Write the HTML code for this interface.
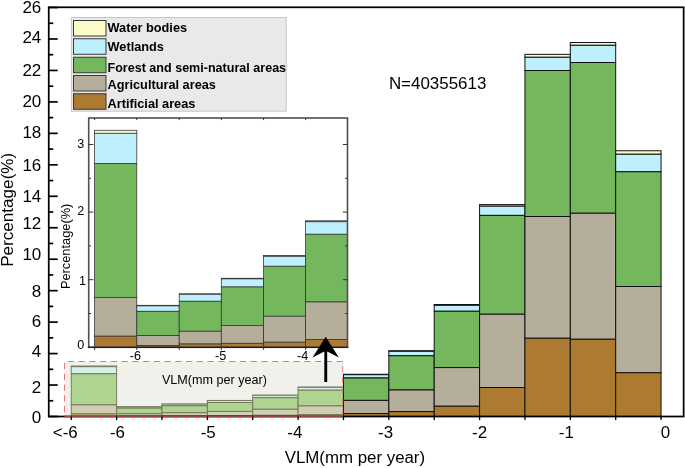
<!DOCTYPE html>
<html><head><meta charset="utf-8"><title>chart</title>
<style>
html,body{margin:0;padding:0;background:#fff;}
body{width:685px;height:468px;overflow:hidden;font-family:"Liberation Sans",sans-serif;}
svg{display:block;font-family:"Liberation Sans",sans-serif;will-change:transform;}
</style></head><body>
<svg width="685" height="468" viewBox="0 0 685 468">
<rect width="685" height="468" fill="#fff"/>

<rect x="64.5" y="361.5" width="278.2" height="55" rx="1.8" fill="#F0F1EA"/>
<g><rect x="71.25" y="366.01" width="45.37" height="0.70" fill="#F4F5D8" stroke="#74765c" stroke-width="0.95"/>
<rect x="71.25" y="366.70" width="45.37" height="7.03" fill="#D5F0E8" stroke="#74765c" stroke-width="0.95"/>
<rect x="71.25" y="373.73" width="45.37" height="31.16" fill="#AED490" stroke="#74765c" stroke-width="0.95"/>
<rect x="71.25" y="404.89" width="45.37" height="9.03" fill="#D0CFB2" stroke="#74765c" stroke-width="0.95"/>
<rect x="71.25" y="413.92" width="45.37" height="2.58" fill="#D0AC6C" stroke="#74765c" stroke-width="0.95"/>
<rect x="116.62" y="406.73" width="45.37" height="0.14" fill="#F4F5D8" stroke="#74765c" stroke-width="0.95"/>
<rect x="116.62" y="406.87" width="45.37" height="1.26" fill="#D5F0E8" stroke="#74765c" stroke-width="0.95"/>
<rect x="116.62" y="408.12" width="45.37" height="5.65" fill="#AED490" stroke="#74765c" stroke-width="0.95"/>
<rect x="116.62" y="413.78" width="45.37" height="2.30" fill="#D0CFB2" stroke="#74765c" stroke-width="0.95"/>
<rect x="116.62" y="416.08" width="45.37" height="0.42" fill="#D0AC6C" stroke="#74765c" stroke-width="0.95"/>
<rect x="161.99" y="404.04" width="45.37" height="0.13" fill="#F4F5D8" stroke="#74765c" stroke-width="0.95"/>
<rect x="161.99" y="404.17" width="45.37" height="1.62" fill="#D5F0E8" stroke="#74765c" stroke-width="0.95"/>
<rect x="161.99" y="405.78" width="45.37" height="6.98" fill="#AED490" stroke="#74765c" stroke-width="0.95"/>
<rect x="161.99" y="412.77" width="45.37" height="2.97" fill="#D0CFB2" stroke="#74765c" stroke-width="0.95"/>
<rect x="161.99" y="415.73" width="45.37" height="0.77" fill="#D0AC6C" stroke="#74765c" stroke-width="0.95"/>
<rect x="207.36" y="400.43" width="45.37" height="0.15" fill="#F4F5D8" stroke="#74765c" stroke-width="0.95"/>
<rect x="207.36" y="400.58" width="45.37" height="1.88" fill="#D5F0E8" stroke="#74765c" stroke-width="0.95"/>
<rect x="207.36" y="402.47" width="45.37" height="8.96" fill="#AED490" stroke="#74765c" stroke-width="0.95"/>
<rect x="207.36" y="411.43" width="45.37" height="4.14" fill="#D0CFB2" stroke="#74765c" stroke-width="0.95"/>
<rect x="207.36" y="415.57" width="45.37" height="0.93" fill="#D0AC6C" stroke="#74765c" stroke-width="0.95"/>
<rect x="252.73" y="395.14" width="45.37" height="0.19" fill="#F4F5D8" stroke="#74765c" stroke-width="0.95"/>
<rect x="252.73" y="395.32" width="45.37" height="2.32" fill="#D5F0E8" stroke="#74765c" stroke-width="0.95"/>
<rect x="252.73" y="397.64" width="45.37" height="11.63" fill="#AED490" stroke="#74765c" stroke-width="0.95"/>
<rect x="252.73" y="409.27" width="45.37" height="6.04" fill="#D0CFB2" stroke="#74765c" stroke-width="0.95"/>
<rect x="252.73" y="415.31" width="45.37" height="1.19" fill="#D0AC6C" stroke="#74765c" stroke-width="0.95"/>
<rect x="298.10" y="387.05" width="45.37" height="0.24" fill="#F4F5D8" stroke="#74765c" stroke-width="0.95"/>
<rect x="298.10" y="387.30" width="45.37" height="2.90" fill="#D5F0E8" stroke="#74765c" stroke-width="0.95"/>
<rect x="298.10" y="390.19" width="45.37" height="15.76" fill="#AED490" stroke="#74765c" stroke-width="0.95"/>
<rect x="298.10" y="405.96" width="45.37" height="8.70" fill="#D0CFB2" stroke="#74765c" stroke-width="0.95"/>
<rect x="298.10" y="414.66" width="45.37" height="1.84" fill="#D0AC6C" stroke="#74765c" stroke-width="0.95"/>
</g>
<g><rect x="343.47" y="374.25" width="45.37" height="0.45" fill="#FBFBC9" stroke="#111" stroke-width="1"/>
<rect x="343.47" y="374.70" width="45.37" height="3.30" fill="#BDEFFC" stroke="#111" stroke-width="1"/>
<rect x="343.47" y="378.00" width="45.37" height="22.40" fill="#75B75D" stroke="#111" stroke-width="1"/>
<rect x="343.47" y="400.40" width="45.37" height="13.20" fill="#B5AE9B" stroke="#111" stroke-width="1"/>
<rect x="343.47" y="413.60" width="45.37" height="2.90" fill="#AD7A32" stroke="#111" stroke-width="1"/>
<rect x="388.84" y="350.70" width="45.37" height="0.60" fill="#FBFBC9" stroke="#111" stroke-width="1"/>
<rect x="388.84" y="351.30" width="45.37" height="4.50" fill="#BDEFFC" stroke="#111" stroke-width="1"/>
<rect x="388.84" y="355.80" width="45.37" height="34.20" fill="#75B75D" stroke="#111" stroke-width="1"/>
<rect x="388.84" y="390.00" width="45.37" height="21.60" fill="#B5AE9B" stroke="#111" stroke-width="1"/>
<rect x="388.84" y="411.60" width="45.37" height="4.90" fill="#AD7A32" stroke="#111" stroke-width="1"/>
<rect x="434.21" y="304.50" width="45.37" height="0.80" fill="#FBFBC9" stroke="#111" stroke-width="1"/>
<rect x="434.21" y="305.30" width="45.37" height="5.95" fill="#BDEFFC" stroke="#111" stroke-width="1"/>
<rect x="434.21" y="311.25" width="45.37" height="56.35" fill="#75B75D" stroke="#111" stroke-width="1"/>
<rect x="434.21" y="367.60" width="45.37" height="38.65" fill="#B5AE9B" stroke="#111" stroke-width="1"/>
<rect x="434.21" y="406.25" width="45.37" height="10.25" fill="#AD7A32" stroke="#111" stroke-width="1"/>
<rect x="479.58" y="204.60" width="45.37" height="1.60" fill="#FBFBC9" stroke="#111" stroke-width="1"/>
<rect x="479.58" y="206.20" width="45.37" height="9.20" fill="#BDEFFC" stroke="#111" stroke-width="1"/>
<rect x="479.58" y="215.40" width="45.37" height="98.85" fill="#75B75D" stroke="#111" stroke-width="1"/>
<rect x="479.58" y="314.25" width="45.37" height="73.25" fill="#B5AE9B" stroke="#111" stroke-width="1"/>
<rect x="479.58" y="387.50" width="45.37" height="29.00" fill="#AD7A32" stroke="#111" stroke-width="1"/>
<rect x="524.95" y="54.35" width="45.37" height="2.95" fill="#FBFBC9" stroke="#111" stroke-width="1"/>
<rect x="524.95" y="57.30" width="45.37" height="13.20" fill="#BDEFFC" stroke="#111" stroke-width="1"/>
<rect x="524.95" y="70.50" width="45.37" height="146.00" fill="#75B75D" stroke="#111" stroke-width="1"/>
<rect x="524.95" y="216.50" width="45.37" height="121.75" fill="#B5AE9B" stroke="#111" stroke-width="1"/>
<rect x="524.95" y="338.25" width="45.37" height="78.25" fill="#AD7A32" stroke="#111" stroke-width="1"/>
<rect x="570.32" y="42.50" width="45.37" height="2.80" fill="#FBFBC9" stroke="#111" stroke-width="1"/>
<rect x="570.32" y="45.30" width="45.37" height="17.20" fill="#BDEFFC" stroke="#111" stroke-width="1"/>
<rect x="570.32" y="62.50" width="45.37" height="150.75" fill="#75B75D" stroke="#111" stroke-width="1"/>
<rect x="570.32" y="213.25" width="45.37" height="126.00" fill="#B5AE9B" stroke="#111" stroke-width="1"/>
<rect x="570.32" y="339.25" width="45.37" height="77.25" fill="#AD7A32" stroke="#111" stroke-width="1"/>
<rect x="615.69" y="150.75" width="45.37" height="3.50" fill="#FBFBC9" stroke="#111" stroke-width="1"/>
<rect x="615.69" y="154.25" width="45.37" height="17.50" fill="#BDEFFC" stroke="#111" stroke-width="1"/>
<rect x="615.69" y="171.75" width="45.37" height="114.75" fill="#75B75D" stroke="#111" stroke-width="1"/>
<rect x="615.69" y="286.50" width="45.37" height="86.25" fill="#B5AE9B" stroke="#111" stroke-width="1"/>
<rect x="615.69" y="372.75" width="45.37" height="43.75" fill="#AD7A32" stroke="#111" stroke-width="1"/>
</g>
<rect x="48.75" y="7.3" width="634.9" height="409.2" fill="none" stroke="#000" stroke-width="1.75"/>
<line x1="64.5" x2="342.7" y1="416.5" y2="416.5" stroke="#5f5f4c" stroke-width="1.7"/>
<path d="M64.5 361.5 H342.7 V416.5" fill="none" stroke="#ee737c" stroke-width="1" stroke-dasharray="6.25 4.5" stroke-dashoffset="7.45"/>
<path d="M342.7 416.5 H64.5" fill="none" stroke="#b83a3c" stroke-width="1.2" stroke-dasharray="6.25 4.5" stroke-dashoffset="7.8"/>
<path d="M64.5 416.5 V361.5" fill="none" stroke="#ee737c" stroke-width="1" stroke-dasharray="6.25 4.5" stroke-dashoffset="6.5"/>
<line x1="48.75" x2="57.75" y1="416.50" y2="416.50" stroke="#000" stroke-width="1.7"/><line x1="48.75" x2="53.25" y1="400.77" y2="400.77" stroke="#000" stroke-width="1.7"/><line x1="48.75" x2="57.75" y1="385.04" y2="385.04" stroke="#000" stroke-width="1.7"/><line x1="48.75" x2="53.25" y1="369.31" y2="369.31" stroke="#000" stroke-width="1.7"/><line x1="48.75" x2="57.75" y1="353.58" y2="353.58" stroke="#000" stroke-width="1.7"/><line x1="48.75" x2="53.25" y1="337.85" y2="337.85" stroke="#000" stroke-width="1.7"/><line x1="48.75" x2="57.75" y1="322.12" y2="322.12" stroke="#000" stroke-width="1.7"/><line x1="48.75" x2="53.25" y1="306.39" y2="306.39" stroke="#000" stroke-width="1.7"/><line x1="48.75" x2="57.75" y1="290.66" y2="290.66" stroke="#000" stroke-width="1.7"/><line x1="48.75" x2="53.25" y1="274.93" y2="274.93" stroke="#000" stroke-width="1.7"/><line x1="48.75" x2="57.75" y1="259.20" y2="259.20" stroke="#000" stroke-width="1.7"/><line x1="48.75" x2="53.25" y1="243.47" y2="243.47" stroke="#000" stroke-width="1.7"/><line x1="48.75" x2="57.75" y1="227.74" y2="227.74" stroke="#000" stroke-width="1.7"/><line x1="48.75" x2="53.25" y1="212.01" y2="212.01" stroke="#000" stroke-width="1.7"/><line x1="48.75" x2="57.75" y1="196.28" y2="196.28" stroke="#000" stroke-width="1.7"/><line x1="48.75" x2="53.25" y1="180.55" y2="180.55" stroke="#000" stroke-width="1.7"/><line x1="48.75" x2="57.75" y1="164.82" y2="164.82" stroke="#000" stroke-width="1.7"/><line x1="48.75" x2="53.25" y1="149.09" y2="149.09" stroke="#000" stroke-width="1.7"/><line x1="48.75" x2="57.75" y1="133.36" y2="133.36" stroke="#000" stroke-width="1.7"/><line x1="48.75" x2="53.25" y1="117.63" y2="117.63" stroke="#000" stroke-width="1.7"/><line x1="48.75" x2="57.75" y1="101.90" y2="101.90" stroke="#000" stroke-width="1.7"/><line x1="48.75" x2="53.25" y1="86.17" y2="86.17" stroke="#000" stroke-width="1.7"/><line x1="48.75" x2="57.75" y1="70.44" y2="70.44" stroke="#000" stroke-width="1.7"/><line x1="48.75" x2="53.25" y1="54.71" y2="54.71" stroke="#000" stroke-width="1.7"/><line x1="48.75" x2="57.75" y1="38.98" y2="38.98" stroke="#000" stroke-width="1.7"/><line x1="48.75" x2="53.25" y1="23.25" y2="23.25" stroke="#000" stroke-width="1.7"/><line x1="48.75" x2="57.75" y1="7.52" y2="7.52" stroke="#000" stroke-width="1.7"/><line x1="71.25" x2="71.25" y1="416.5" y2="420.1" stroke="#000" stroke-width="1.3"/><line x1="116.62" x2="116.62" y1="416.5" y2="420.1" stroke="#000" stroke-width="1.3"/><line x1="161.99" x2="161.99" y1="416.5" y2="420.1" stroke="#000" stroke-width="1.3"/><line x1="207.36" x2="207.36" y1="416.5" y2="420.1" stroke="#000" stroke-width="1.3"/><line x1="252.73" x2="252.73" y1="416.5" y2="420.1" stroke="#000" stroke-width="1.3"/><line x1="298.10" x2="298.10" y1="416.5" y2="420.1" stroke="#000" stroke-width="1.3"/><line x1="343.47" x2="343.47" y1="416.5" y2="420.1" stroke="#000" stroke-width="1.3"/><line x1="388.84" x2="388.84" y1="416.5" y2="420.1" stroke="#000" stroke-width="1.3"/><line x1="434.21" x2="434.21" y1="416.5" y2="420.1" stroke="#000" stroke-width="1.3"/><line x1="479.58" x2="479.58" y1="416.5" y2="420.1" stroke="#000" stroke-width="1.3"/><line x1="524.95" x2="524.95" y1="416.5" y2="420.1" stroke="#000" stroke-width="1.3"/><line x1="570.32" x2="570.32" y1="416.5" y2="420.1" stroke="#000" stroke-width="1.3"/><line x1="615.69" x2="615.69" y1="416.5" y2="420.1" stroke="#000" stroke-width="1.3"/><line x1="661.06" x2="661.06" y1="416.5" y2="420.1" stroke="#000" stroke-width="1.3"/>
<text x="41.3" y="422.55" text-anchor="end" font-size="17">0</text><text x="41.3" y="392.75" text-anchor="end" font-size="17">2</text><text x="41.3" y="356.65" text-anchor="end" font-size="17">4</text><text x="41.3" y="326.55" text-anchor="end" font-size="17">6</text><text x="41.3" y="296.65" text-anchor="end" font-size="17">8</text><text x="41.3" y="259.75" text-anchor="end" font-size="17">10</text><text x="41.3" y="229.45" text-anchor="end" font-size="17">12</text><text x="41.3" y="201.55" text-anchor="end" font-size="17">14</text><text x="41.3" y="171.35" text-anchor="end" font-size="17">16</text><text x="41.3" y="137.55" text-anchor="end" font-size="17">18</text><text x="41.3" y="106.55" text-anchor="end" font-size="17">20</text><text x="41.3" y="76.25" text-anchor="end" font-size="17">22</text><text x="41.3" y="42.95" text-anchor="end" font-size="17">24</text><text x="41.3" y="12.85" text-anchor="end" font-size="17">26</text><text x="65.25" y="437.6" text-anchor="middle" font-size="16.9">&lt;-6</text><text x="117.42" y="437.6" text-anchor="middle" font-size="16.9">-6</text><text x="208.16" y="437.6" text-anchor="middle" font-size="16.9">-5</text><text x="294.80" y="437.6" text-anchor="middle" font-size="16.9">-4</text><text x="385.54" y="437.6" text-anchor="middle" font-size="16.9">-3</text><text x="479.58" y="437.6" text-anchor="middle" font-size="16.9">-2</text><text x="566.32" y="437.6" text-anchor="middle" font-size="16.9">-1</text><text x="665.46" y="437.6" text-anchor="middle" font-size="16.9">0</text><text x="354.9" y="463.1" text-anchor="middle" font-size="16.85">VLM(mm per year)</text><text transform="translate(13.3,209.8) rotate(-90)" text-anchor="middle" font-size="17.1">Percentage(%)</text><text x="388.9" y="89.2" font-size="16.95">N=40355613</text>
<rect x="88.7" y="118" width="258.8" height="229.3" fill="#fff" stroke="none"/>
<g><rect x="94.60" y="130.30" width="42.20" height="3.00" fill="#FBFBC9" stroke="#303030" stroke-width="0.75"/>
<rect x="94.60" y="133.30" width="42.20" height="30.20" fill="#BDEFFC" stroke="#303030" stroke-width="0.75"/>
<rect x="94.60" y="163.50" width="42.20" height="133.90" fill="#75B75D" stroke="#303030" stroke-width="0.75"/>
<rect x="94.60" y="297.40" width="42.20" height="38.80" fill="#B5AE9B" stroke="#303030" stroke-width="0.75"/>
<rect x="94.60" y="336.20" width="42.20" height="11.10" fill="#AD7A32" stroke="#303030" stroke-width="0.75"/>
<rect x="136.80" y="305.30" width="42.40" height="0.60" fill="#FBFBC9" stroke="#303030" stroke-width="0.75"/>
<rect x="136.80" y="305.90" width="42.40" height="5.40" fill="#BDEFFC" stroke="#303030" stroke-width="0.75"/>
<rect x="136.80" y="311.30" width="42.40" height="24.30" fill="#75B75D" stroke="#303030" stroke-width="0.75"/>
<rect x="136.80" y="335.60" width="42.40" height="9.90" fill="#B5AE9B" stroke="#303030" stroke-width="0.75"/>
<rect x="136.80" y="345.50" width="42.40" height="1.80" fill="#AD7A32" stroke="#303030" stroke-width="0.75"/>
<rect x="179.20" y="293.75" width="42.10" height="0.55" fill="#FBFBC9" stroke="#303030" stroke-width="0.75"/>
<rect x="179.20" y="294.30" width="42.10" height="6.95" fill="#BDEFFC" stroke="#303030" stroke-width="0.75"/>
<rect x="179.20" y="301.25" width="42.10" height="30.00" fill="#75B75D" stroke="#303030" stroke-width="0.75"/>
<rect x="179.20" y="331.25" width="42.10" height="12.75" fill="#B5AE9B" stroke="#303030" stroke-width="0.75"/>
<rect x="179.20" y="344.00" width="42.10" height="3.30" fill="#AD7A32" stroke="#303030" stroke-width="0.75"/>
<rect x="221.30" y="278.25" width="42.30" height="0.65" fill="#FBFBC9" stroke="#303030" stroke-width="0.75"/>
<rect x="221.30" y="278.90" width="42.30" height="8.10" fill="#BDEFFC" stroke="#303030" stroke-width="0.75"/>
<rect x="221.30" y="287.00" width="42.30" height="38.50" fill="#75B75D" stroke="#303030" stroke-width="0.75"/>
<rect x="221.30" y="325.50" width="42.30" height="17.80" fill="#B5AE9B" stroke="#303030" stroke-width="0.75"/>
<rect x="221.30" y="343.30" width="42.30" height="4.00" fill="#AD7A32" stroke="#303030" stroke-width="0.75"/>
<rect x="263.60" y="255.50" width="42.00" height="0.80" fill="#FBFBC9" stroke="#303030" stroke-width="0.75"/>
<rect x="263.60" y="256.30" width="42.00" height="9.95" fill="#BDEFFC" stroke="#303030" stroke-width="0.75"/>
<rect x="263.60" y="266.25" width="42.00" height="50.00" fill="#75B75D" stroke="#303030" stroke-width="0.75"/>
<rect x="263.60" y="316.25" width="42.00" height="25.95" fill="#B5AE9B" stroke="#303030" stroke-width="0.75"/>
<rect x="263.60" y="342.20" width="42.00" height="5.10" fill="#AD7A32" stroke="#303030" stroke-width="0.75"/>
<rect x="305.60" y="220.75" width="41.90" height="1.05" fill="#FBFBC9" stroke="#303030" stroke-width="0.75"/>
<rect x="305.60" y="221.80" width="41.90" height="12.45" fill="#BDEFFC" stroke="#303030" stroke-width="0.75"/>
<rect x="305.60" y="234.25" width="41.90" height="67.75" fill="#75B75D" stroke="#303030" stroke-width="0.75"/>
<rect x="305.60" y="302.00" width="41.90" height="37.40" fill="#B5AE9B" stroke="#303030" stroke-width="0.75"/>
<rect x="305.60" y="339.40" width="41.90" height="7.90" fill="#AD7A32" stroke="#303030" stroke-width="0.75"/>
</g>
<rect x="88.7" y="118" width="258.8" height="229.3" fill="none" stroke="#505050" stroke-width="1.6"/>
<line x1="87.9" x2="348.3" y1="347.3" y2="347.3" stroke="#1a1a1a" stroke-width="1.2"/>
<line x1="88.7" x2="93.3" y1="347.30" y2="347.30" stroke="#333" stroke-width="1"/><line x1="347.5" x2="342.9" y1="347.30" y2="347.30" stroke="#333" stroke-width="1"/><line x1="88.7" x2="91.10000000000001" y1="313.50" y2="313.50" stroke="#333" stroke-width="1"/><line x1="347.5" x2="345.1" y1="313.50" y2="313.50" stroke="#333" stroke-width="1"/><line x1="88.7" x2="93.3" y1="279.70" y2="279.70" stroke="#333" stroke-width="1"/><line x1="347.5" x2="342.9" y1="279.70" y2="279.70" stroke="#333" stroke-width="1"/><line x1="88.7" x2="91.10000000000001" y1="245.90" y2="245.90" stroke="#333" stroke-width="1"/><line x1="347.5" x2="345.1" y1="245.90" y2="245.90" stroke="#333" stroke-width="1"/><line x1="88.7" x2="93.3" y1="212.10" y2="212.10" stroke="#333" stroke-width="1"/><line x1="347.5" x2="342.9" y1="212.10" y2="212.10" stroke="#333" stroke-width="1"/><line x1="88.7" x2="91.10000000000001" y1="178.30" y2="178.30" stroke="#333" stroke-width="1"/><line x1="347.5" x2="345.1" y1="178.30" y2="178.30" stroke="#333" stroke-width="1"/><line x1="88.7" x2="93.3" y1="144.50" y2="144.50" stroke="#333" stroke-width="1"/><line x1="347.5" x2="342.9" y1="144.50" y2="144.50" stroke="#333" stroke-width="1"/><line x1="94.60" x2="94.60" y1="118" y2="120.1" stroke="#333" stroke-width="1"/><line x1="94.60" x2="94.60" y1="347.3" y2="349.90000000000003" stroke="#333" stroke-width="1"/><line x1="136.80" x2="136.80" y1="118" y2="120.1" stroke="#333" stroke-width="1"/><line x1="136.80" x2="136.80" y1="347.3" y2="349.90000000000003" stroke="#333" stroke-width="1"/><line x1="179.20" x2="179.20" y1="118" y2="120.1" stroke="#333" stroke-width="1"/><line x1="179.20" x2="179.20" y1="347.3" y2="349.90000000000003" stroke="#333" stroke-width="1"/><line x1="221.30" x2="221.30" y1="118" y2="120.1" stroke="#333" stroke-width="1"/><line x1="221.30" x2="221.30" y1="347.3" y2="349.90000000000003" stroke="#333" stroke-width="1"/><line x1="263.60" x2="263.60" y1="118" y2="120.1" stroke="#333" stroke-width="1"/><line x1="263.60" x2="263.60" y1="347.3" y2="349.90000000000003" stroke="#333" stroke-width="1"/><line x1="305.60" x2="305.60" y1="118" y2="120.1" stroke="#333" stroke-width="1"/><line x1="305.60" x2="305.60" y1="347.3" y2="349.90000000000003" stroke="#333" stroke-width="1"/><text x="84.3" y="147.9" text-anchor="end" font-size="12.6">3</text><text x="84.3" y="214.6" text-anchor="end" font-size="12.6">2</text><text x="86.0" y="285.0" text-anchor="end" font-size="12.6">1</text><text x="84.3" y="348.7" text-anchor="end" font-size="12.6">0</text><text x="135.30" y="360.0" text-anchor="middle" font-size="12.6">-6</text><text x="220.60" y="360.0" text-anchor="middle" font-size="12.6">-5</text><text x="302.60" y="360.0" text-anchor="middle" font-size="12.6">-4</text><text transform="translate(69.9,246.4) rotate(-90)" text-anchor="middle" font-size="12.8">Percentage(%)</text><text x="214.4" y="384.4" text-anchor="middle" font-size="12.6">VLM(mm per year)</text>
<path d="M325.7 336.7 L338.9 357.4 L327.2 351.4 L327.2 382 L324.3 382 L324.3 351.4 L312.5 357.4 Z" fill="#000"/>
<rect x="71.4" y="17.5" width="214.85" height="93.7" fill="#e8e9e9" stroke="#c6c6c6" stroke-width="1"/>
<rect x="73.5" y="20.5" width="32.5" height="15.5" fill="#FBFBC9" stroke="#383838" stroke-width="1"/><text x="107.5" y="32.4" font-size="12.75" font-weight="bold">Water bodies</text><rect x="73.5" y="38.75" width="32.5" height="15.5" fill="#BDEFFC" stroke="#383838" stroke-width="1"/><text x="107.5" y="50.9" font-size="12.75" font-weight="bold">Wetlands</text><rect x="73.5" y="57.25" width="32.5" height="15.5" fill="#75B75D" stroke="#383838" stroke-width="1"/><text x="107.5" y="71.7" font-size="12.75" font-weight="bold" textLength="178.6" lengthAdjust="spacingAndGlyphs">Forest and semi-natural areas</text><rect x="73.5" y="75.5" width="32.5" height="15.5" fill="#B5AE9B" stroke="#383838" stroke-width="1"/><text x="107.5" y="89.3" font-size="12.75" font-weight="bold">Agricultural areas</text><rect x="73.5" y="93.75" width="32.5" height="15.5" fill="#AD7A32" stroke="#383838" stroke-width="1"/><text x="107.5" y="107.7" font-size="12.75" font-weight="bold">Artificial areas</text>
</svg></body></html>
